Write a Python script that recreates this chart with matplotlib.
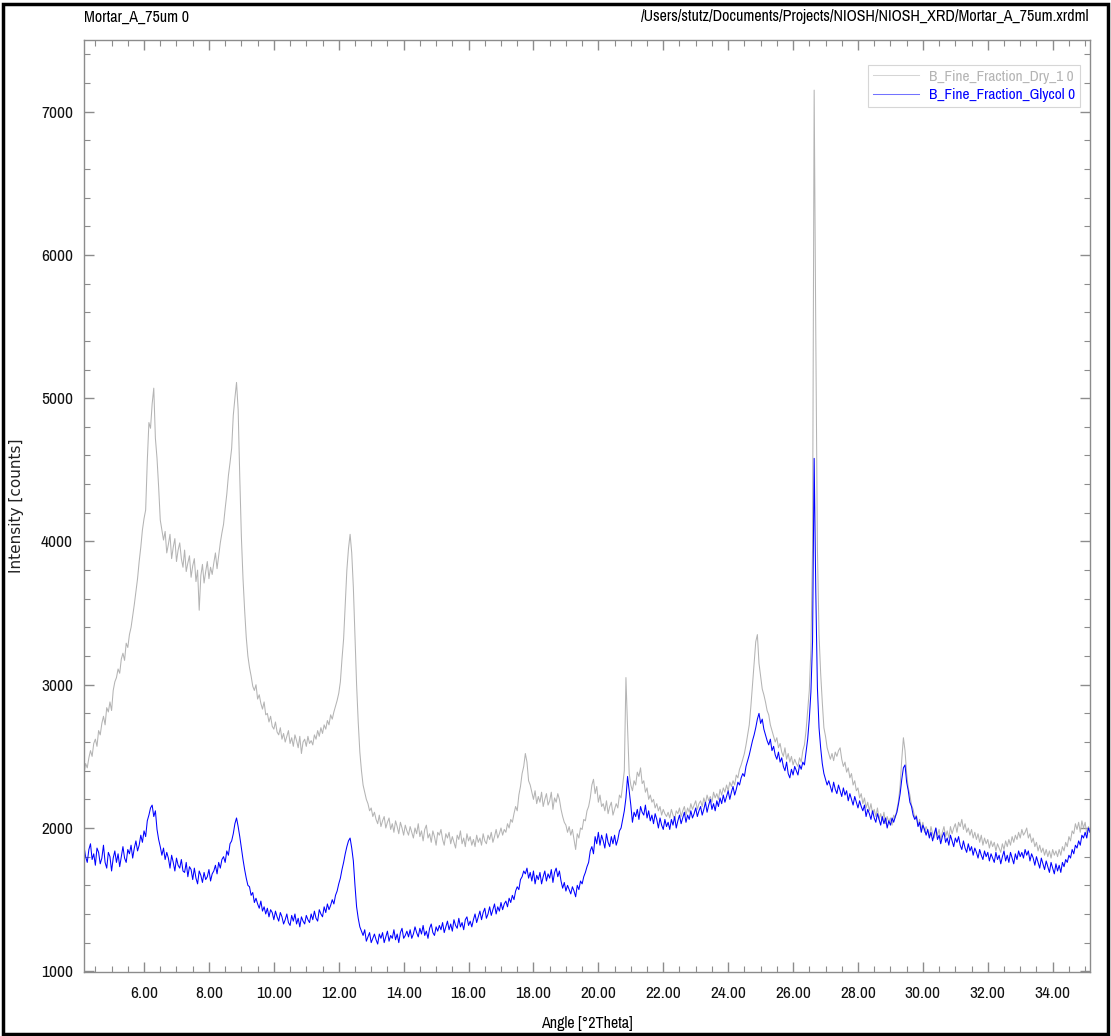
import numpy as np
import matplotlib
matplotlib.use("Agg")
import matplotlib.pyplot as plt
from matplotlib import font_manager
from matplotlib.patches import Rectangle
from matplotlib.ticker import MultipleLocator, FormatStrFormatter

# ---- scan settings -------------------------------------------------------
two_theta_start = 4.15
two_theta_step = 0.05

# ---- measured intensities [counts], one row per degree ---------------------
dry_counts = [
    2380, 2450, 2420, 2490, 2540, 2500, 2590, 2620, 2570, 2680, 2650, 2730, 2780, 2720, 2840, 2810, 2880, 2820, 2960, 3020,
    3050, 3110, 3080, 3180, 3220, 3170, 3290, 3260, 3350, 3400, 3480, 3560, 3650, 3740, 3860, 3960, 4080, 4160, 4220, 4560,
    4830, 4790, 4960, 5070, 4720, 4580, 4380, 4150, 4080, 4010, 4070, 3920, 3980, 4050, 3880, 3960, 4020, 3860, 3940, 3990,
    3880, 3820, 3940, 3790, 3850, 3900, 3750, 3830, 3880, 3720, 3800, 3520, 3760, 3840, 3710, 3790, 3860, 3740, 3820, 3770,
    3850, 3920, 3810, 3900, 3990, 4060, 4120, 4230, 4330, 4460, 4550, 4650, 4880, 5000, 5110, 4920, 4450, 4030, 3740, 3520,
    3330, 3200, 3120, 3060, 2990, 2960, 3000, 2900, 2930, 2870, 2830, 2880, 2790, 2800, 2740, 2780, 2710, 2690, 2740, 2670,
    2650, 2700, 2620, 2660, 2600, 2640, 2680, 2590, 2630, 2570, 2650, 2610, 2560, 2640, 2520, 2600, 2620, 2570, 2640, 2590,
    2610, 2580, 2650, 2620, 2680, 2640, 2700, 2660, 2720, 2690, 2750, 2720, 2790, 2760, 2810, 2850, 2890, 2940, 3020, 3180,
    3320, 3560, 3800, 3950, 4050, 3920, 3680, 3350, 3000, 2740, 2530, 2400, 2300, 2250, 2200, 2170, 2120, 2140, 2080, 2110,
    2060, 2030, 2090, 2010, 2050, 2080, 2000, 2040, 2070, 1990, 2030, 1970, 2050, 2010, 1960, 2040, 2000, 1950, 2020, 1980,
    1950, 2010, 1970, 1930, 2000, 1960, 2030, 1940, 1980, 1910, 1990, 2020, 1930, 1960, 1900, 1980, 1940, 1880, 1970, 1950,
    1990, 1920, 1880, 1960, 1930, 1970, 1890, 1940, 1900, 1860, 1950, 1920, 1980, 1890, 1930, 1870, 1960, 1910, 1940, 1880,
    1920, 1870, 1950, 1900, 1930, 1880, 1960, 1910, 1890, 1950, 1920, 1970, 1900, 1940, 1990, 1930, 1960, 2000, 1950, 1990,
    1970, 2030, 2000, 2060, 2040, 2100, 2150, 2120, 2230, 2290, 2380, 2430, 2520, 2460, 2330, 2300, 2250, 2200, 2260, 2170,
    2220, 2180, 2250, 2150, 2200, 2240, 2160, 2190, 2250, 2130, 2210, 2180, 2240, 2200, 2130, 2080, 2040, 2020, 1970, 2010,
    1950, 1990, 1920, 1850, 1960, 1930, 2000, 1990, 2060, 2050, 2120, 2150, 2210, 2300, 2340, 2240, 2290, 2180, 2230, 2150,
    2170, 2120, 2190, 2100, 2150, 2180, 2090, 2130, 2170, 2140, 2230, 2210, 2300, 2400, 3050, 2700, 2380, 2300, 2260, 2330,
    2300, 2390, 2360, 2420, 2310, 2330, 2250, 2280, 2200, 2230, 2180, 2200, 2140, 2170, 2120, 2150, 2090, 2130, 2100, 2080,
    2110, 2070, 2130, 2090, 2060, 2120, 2100, 2140, 2080, 2120, 2150, 2090, 2140, 2110, 2170, 2130, 2160, 2190, 2130, 2170,
    2190, 2150, 2210, 2170, 2230, 2190, 2220, 2180, 2250, 2210, 2240, 2200, 2270, 2230, 2280, 2250, 2300, 2260, 2320, 2290,
    2330, 2300, 2370, 2350, 2410, 2440, 2480, 2520, 2580, 2650, 2720, 2850, 3000, 3150, 3300, 3350, 3150, 3060, 2970, 2930,
    2880, 2820, 2790, 2720, 2680, 2640, 2600, 2630, 2560, 2590, 2530, 2500, 2560, 2480, 2520, 2460, 2500, 2440, 2480, 2450,
    2430, 2490, 2460, 2540, 2580, 2680, 2820, 2960, 3250, 3950, 7150, 5450, 3950, 3350, 3080, 2880, 2700, 2640, 2560, 2520,
    2480, 2520, 2470, 2530, 2500, 2540, 2560, 2480, 2430, 2460, 2390, 2420, 2350, 2380, 2300, 2330, 2260, 2280, 2210, 2240,
    2170, 2210, 2140, 2180, 2120, 2170, 2100, 2130, 2080, 2140, 2060, 2100, 2050, 2110, 2030, 2080, 2040, 2070, 2020, 2090,
    2070, 2130, 2190, 2300, 2480, 2630, 2540, 2380, 2280, 2230, 2160, 2130, 2070, 2090, 2020, 2060, 1990, 2040, 1970, 2010,
    1980, 1940, 2010, 1960, 1930, 2000, 1950, 1990, 1920, 1970, 2010, 1940, 1980, 1930, 2010, 1960, 2000, 2030, 1970, 2040,
    2010, 2060, 1990, 2030, 1970, 2000, 1950, 1990, 1930, 1970, 1920, 1960, 1900, 1950, 1880, 1930, 1890, 1920, 1860, 1910,
    1870, 1900, 1840, 1890, 1860, 1830, 1890, 1850, 1910, 1870, 1920, 1880, 1940, 1900, 1950, 1920, 1970, 1930, 1990, 1950,
    1970, 2000, 1930, 1960, 1900, 1930, 1870, 1900, 1840, 1880, 1830, 1860, 1810, 1850, 1800, 1840, 1790, 1850, 1810, 1840,
    1800, 1850, 1810, 1870, 1840, 1900, 1870, 1940, 1910, 1980, 1960, 2030, 1990, 2040, 1970, 2050, 2000, 2040, 1960, 2010, 1970,
]

glycol_counts = [
    1870, 1800, 1760, 1850, 1890, 1780, 1820, 1740, 1860, 1830, 1750, 1790, 1880, 1760, 1720, 1830, 1800, 1700, 1790, 1840,
    1760, 1820, 1730, 1800, 1870, 1790, 1760, 1850, 1820, 1880, 1790, 1860, 1910, 1840, 1880, 1950, 1900, 1980, 1940, 2050,
    2090, 2140, 2160, 2080, 2120, 1990, 1920, 1870, 1810, 1860, 1780, 1830, 1790, 1720, 1810, 1760, 1700, 1790, 1740, 1720,
    1780, 1700, 1690, 1760, 1660, 1730, 1710, 1640, 1720, 1650, 1610, 1700, 1670, 1620, 1690, 1640, 1660, 1710, 1630, 1680,
    1700, 1740, 1680, 1760, 1720, 1780, 1800, 1760, 1840, 1810, 1890, 1910, 1960, 2030, 2070, 2010, 1940, 1860, 1780, 1710,
    1650, 1600, 1590, 1530, 1550, 1480, 1510, 1470, 1440, 1490, 1420, 1450, 1400, 1440, 1380, 1430, 1410, 1360, 1420, 1380,
    1350, 1410, 1380, 1330, 1360, 1400, 1340, 1320, 1390, 1350, 1400, 1330, 1370, 1310, 1380, 1350, 1330, 1390, 1360, 1340,
    1400, 1360, 1420, 1370, 1350, 1430, 1400, 1380, 1450, 1410, 1470, 1430, 1460, 1500, 1470, 1530, 1560, 1610, 1650, 1710,
    1760, 1820, 1870, 1910, 1930, 1860, 1770, 1600, 1450, 1370, 1310, 1280, 1250, 1290, 1210, 1240, 1270, 1200, 1230, 1260,
    1220, 1190, 1260, 1230, 1270, 1200, 1240, 1280, 1210, 1250, 1230, 1290, 1220, 1260, 1200, 1270, 1300, 1230, 1250, 1280,
    1240, 1290, 1230, 1260, 1310, 1270, 1240, 1300, 1260, 1320, 1250, 1280, 1230, 1300, 1330, 1270, 1250, 1310, 1280, 1320,
    1290, 1340, 1270, 1310, 1350, 1290, 1330, 1280, 1360, 1320, 1300, 1370, 1310, 1340, 1290, 1360, 1380, 1320, 1350, 1310,
    1360, 1400, 1340, 1380, 1420, 1360, 1410, 1440, 1370, 1400, 1450, 1390, 1430, 1470, 1400, 1450, 1420, 1480, 1430, 1470,
    1490, 1450, 1510, 1480, 1530, 1500, 1560, 1590, 1570, 1640, 1660, 1700, 1680, 1720, 1650, 1690, 1630, 1700, 1610, 1670,
    1640, 1690, 1610, 1660, 1700, 1630, 1680, 1650, 1710, 1620, 1690, 1720, 1660, 1700, 1630, 1580, 1620, 1560, 1600, 1570,
    1540, 1590, 1560, 1520, 1600, 1570, 1630, 1610, 1660, 1690, 1730, 1760, 1840, 1870, 1820, 1940, 1890, 1970, 1880, 1950,
    1910, 1860, 1960, 1900, 1870, 1940, 1890, 1950, 1880, 1920, 1980, 2000, 2060, 2120, 2210, 2360, 2260, 2160, 2040, 2110,
    2080, 2130, 2060, 2150, 2110, 2090, 2160, 2070, 2120, 2050, 2090, 2030, 2100, 2060, 2000, 2070, 2020, 1990, 2060, 2010,
    2040, 1990, 2060, 2020, 2080, 2000, 2050, 2090, 2030, 2070, 2110, 2040, 2090, 2060, 2120, 2070, 2100, 2140, 2080, 2120,
    2150, 2090, 2130, 2180, 2110, 2160, 2200, 2130, 2170, 2120, 2190, 2150, 2210, 2170, 2230, 2180, 2220, 2260, 2200, 2250,
    2290, 2230, 2270, 2320, 2300, 2350, 2380, 2360, 2430, 2470, 2510, 2560, 2610, 2650, 2700, 2760, 2800, 2730, 2760, 2690,
    2650, 2610, 2580, 2620, 2540, 2570, 2510, 2480, 2530, 2460, 2490, 2430, 2400, 2460, 2380, 2350, 2410, 2370, 2430, 2400,
    2370, 2440, 2410, 2460, 2440, 2530, 2620, 2760, 2950, 3300, 4580, 3650, 2980, 2700, 2560, 2450, 2380, 2340, 2300, 2330,
    2290, 2250, 2320, 2270, 2240, 2300, 2260, 2220, 2280, 2230, 2260, 2190, 2240, 2200, 2160, 2220, 2180, 2140, 2190, 2150,
    2120, 2160, 2080, 2130, 2100, 2060, 2120, 2070, 2040, 2100, 2060, 2020, 2080, 2030, 2070, 2000, 2050, 2020, 2070, 2040,
    2080, 2110, 2170, 2240, 2340, 2420, 2440, 2320, 2260, 2180, 2150, 2090, 2060, 2080, 2010, 2040, 1970, 2020, 1990, 1950,
    1990, 1930, 1970, 1910, 1960, 2000, 1920, 1950, 1890, 1940, 1970, 1900, 1930, 1880, 1950, 1910, 1870, 1930, 1900, 1940,
    1880, 1850, 1910, 1860, 1830, 1890, 1840, 1870, 1810, 1860, 1830, 1790, 1850, 1810, 1780, 1840, 1800, 1830, 1770, 1820,
    1790, 1760, 1830, 1780, 1810, 1750, 1800, 1840, 1770, 1810, 1760, 1830, 1790, 1750, 1820, 1780, 1840, 1800, 1830, 1790,
    1850, 1810, 1840, 1770, 1820, 1790, 1740, 1800, 1760, 1720, 1790, 1750, 1710, 1770, 1730, 1690, 1760, 1720, 1680, 1750,
    1700, 1740, 1690, 1760, 1730, 1780, 1760, 1810, 1790, 1850, 1820, 1880, 1860, 1910, 1880, 1950, 1930, 1970, 1930, 2000, 1970,
]

series_labels = ["B_Fine_Fraction_Dry_1 0", "B_Fine_Fraction_Glycol 0"]
series_colors = ["#b4b4b4", "#0000ff"]
header_left = "Mortar_A_75um 0"
header_right = "/Users/stutz/Documents/Projects/NIOSH/NIOSH_XRD/Mortar_A_75um.xrdml"
x_label = "Angle [°2Theta]"
y_label = "Intensity [counts]"

# ---- font: a narrow sans if one is installed, else condensed DejaVu --------
names = sorted({f.name for f in font_manager.fontManager.ttflist})
narrow = [n for n in names if "Narrow" in n or "Condensed" in n]
plt.rcParams["font.family"] = (narrow[:1] + ["DejaVu Sans"])
plt.rcParams["font.stretch"] = "condensed"

# ---- figure --------------------------------------------------------------
W, H = 1111, 1036
fig = plt.figure(figsize=(W / 100, H / 100), dpi=100)
ax = fig.add_axes([84 / W, 64 / H, (1090 - 84) / W, (996 - 64) / H])

for counts, lab, col in zip([dry_counts, glycol_counts], series_labels, series_colors):
    tt = two_theta_start + two_theta_step * np.arange(len(counts))
    ax.plot(tt, counts, color=col, lw=0.75, label=lab)

ax.set_xlim(4.15, 35.15)
ax.set_ylim(995, 7500)

ax.xaxis.set_major_locator(MultipleLocator(2))
ax.xaxis.set_minor_locator(MultipleLocator(0.5))
ax.xaxis.set_major_formatter(FormatStrFormatter("%.2f"))
ax.yaxis.set_major_locator(MultipleLocator(1000))
ax.yaxis.set_minor_locator(MultipleLocator(200))

for s in ax.spines.values():
    s.set_color("#8c8c8c")
    s.set_linewidth(1.0)

ax.tick_params(which="both", direction="in", top=True, right=True,
               color="#8c8c8c", labelsize=12.5, labelcolor="#111111")
ax.tick_params(which="major", length=7, width=1)
ax.tick_params(which="minor", length=4, width=0.8)
ax.tick_params(axis="x", which="major", pad=10)
ax.tick_params(axis="y", which="major", pad=8)

ax.set_xlabel(x_label, fontsize=11.5)
ax.xaxis.set_label_coords(0.5, -0.047)
ax.set_ylabel(y_label, fontsize=11, family="DejaVu Sans", fontstretch="normal",
              color="#222222")
ax.yaxis.set_label_coords(-0.060, 0.5)

leg = ax.legend(loc="upper right", bbox_to_anchor=(0.990, 0.973), borderaxespad=0,
                frameon=True, fancybox=False, fontsize=11, handlelength=3.0,
                handletextpad=0.7, labelspacing=0.3, borderpad=0.3)
leg.get_frame().set_edgecolor("#cccccc")
leg.get_frame().set_linewidth(0.8)
for txt, line, col in zip(leg.get_texts(), leg.get_lines(), ["#b4b4b4", "#0000ff"]):
    txt.set_color(col)
    line.set_alpha(0.55)

fig.text(84 / W, 1 - 17 / H, header_left, ha="left", va="center", fontsize=11.5)
fig.text(1089 / W, 1 - 17 / H, header_right, ha="right", va="center", fontsize=11.5)

fig.patches.append(Rectangle((2.5 / W, 2.5 / H), 1 - 6 / W, 1 - 6 / H,
                             transform=fig.transFigure, fill=False,
                             edgecolor="black", linewidth=2.5))

fig.savefig("out.png", dpi=100)
